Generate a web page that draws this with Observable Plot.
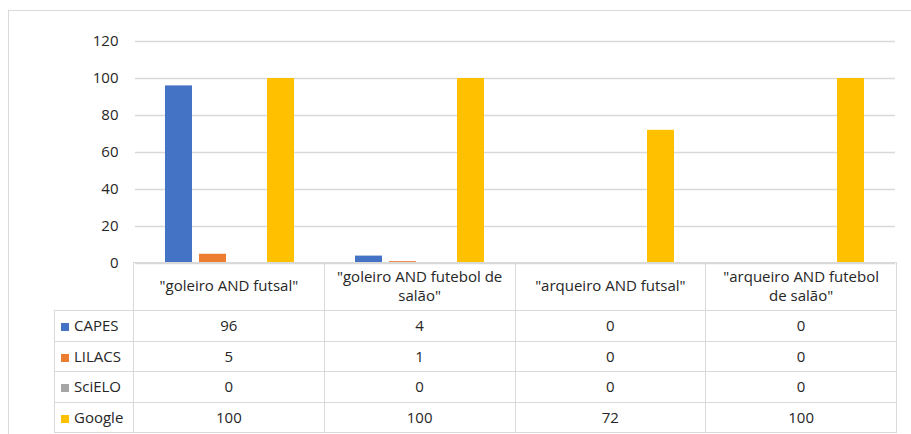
<!DOCTYPE html>
<html><head><meta charset="utf-8">
<script src="https://cdn.jsdelivr.net/npm/d3@7"></script>
<script src="https://cdn.jsdelivr.net/npm/@observablehq/plot@0.6"></script>
<style>
html,body{margin:0;padding:0;background:#fff;}
#wrap{position:relative;width:911px;height:434px;overflow:hidden;background:#fff;font-family:"Open Sans",sans-serif;color:#262626;}
#border{position:absolute;left:8px;top:10px;width:920px;height:440px;border-left:1.5px solid #d9d9d9;border-top:1.5px solid #d9d9d9;box-sizing:border-box;}
#chart{position:absolute;left:0;top:0;}
#tbl{position:absolute;left:54px;top:262px;border-collapse:collapse;table-layout:fixed;font-size:15px;line-height:19px;}
#tbl td{border:1.5px solid #d9d9d9;text-align:center;padding:0;box-sizing:border-box;}
#tbl td.corner{border-top:none;border-left:none;}
#tbl tr.head td{height:48px;}
#tbl tr.head td.hdr{padding-bottom:2px;}
#tbl tr.row td{height:30.5px;}
#tbl td.leg{text-align:left;padding-left:6px;white-space:nowrap;}
.sw{display:inline-block;width:8px;height:8px;margin-right:5px;vertical-align:0px;}
</style></head>
<body>
<div id="wrap"><div id="border"></div><div id="chart"></div><table id="tbl"></table></div>
<script>
const categories = ['"goleiro AND futsal"', '"goleiro AND futebol de salão"', '"arqueiro AND futsal"', '"arqueiro AND futebol de salão"'];
const headerLines = [['"goleiro AND futsal"'], ['"goleiro AND futebol de', 'salão"'], ['"arqueiro AND futsal"'], ['"arqueiro AND futebol', 'de salão"']];
const series = ["CAPES", "LILACS", "SciELO", "Google"];
const capes = [96, 4, 0, 0];
const lilacs = [5, 1, 0, 0];
const scielo = [0, 0, 0, 0];
const google = [100, 100, 72, 100];
const colors = ["#4472C4", "#ED7D31", "#A5A5A5", "#FFC000"];
const yTicks = [0, 20, 40, 60, 80, 100, 120];

const values = [capes, lilacs, scielo, google];
const rows = categories.flatMap((c, i) => series.map((s, j) => ({category: c, series: s, value: values[j][i]})));

const chart = Plot.plot({
  width: 911, height: 264,
  marginLeft: 133, marginRight: 15, marginTop: 41, marginBottom: 1,
  style: {fontFamily: '"Open Sans", sans-serif', fontSize: "15px", color: "#262626", background: "transparent", overflow: "visible"},
  fx: {domain: categories, padding: 0, axis: null},
  x: {domain: series, paddingInner: 0.2, paddingOuter: 0.86, axis: null},
  y: {domain: [0, 120], axis: null},
  color: {domain: series, range: colors},
  marks: [
    Plot.gridY(yTicks, {stroke: "#d9d9d9", strokeOpacity: 1, strokeWidth: 1.5}),
    Plot.barY(rows, {fx: "category", x: "series", y: "value", fill: "series"}),
    Plot.axisY(yTicks, {tickSize: 0, tickPadding: 17, label: null, fontSize: 15, fill: "#262626"})
  ]
});
document.getElementById("chart").appendChild(chart);

// data table
const tbl = document.getElementById("tbl");
const colg = document.createElement("colgroup");
const c0 = document.createElement("col"); c0.style.width = "79px"; colg.appendChild(c0);
categories.forEach(() => { const c = document.createElement("col"); c.style.width = "190.75px"; colg.appendChild(c); });
tbl.appendChild(colg);
const head = document.createElement("tr"); head.className = "head";
const corner = document.createElement("td"); corner.className = "corner"; head.appendChild(corner);
headerLines.forEach(lines => {
  const td = document.createElement("td"); td.className = "hdr";
  lines.forEach((l, k) => { if (k) td.appendChild(document.createElement("br")); td.appendChild(document.createTextNode(l)); });
  head.appendChild(td);
});
tbl.appendChild(head);
series.forEach((s, j) => {
  const tr = document.createElement("tr"); tr.className = "row";
  const td = document.createElement("td"); td.className = "leg";
  const sw = document.createElement("span"); sw.className = "sw"; sw.style.background = colors[j];
  td.appendChild(sw); td.appendChild(document.createTextNode(s));
  tr.appendChild(td);
  values[j].forEach(v => { const c = document.createElement("td"); c.textContent = v; tr.appendChild(c); });
  tbl.appendChild(tr);
});
</script>
</body></html>
